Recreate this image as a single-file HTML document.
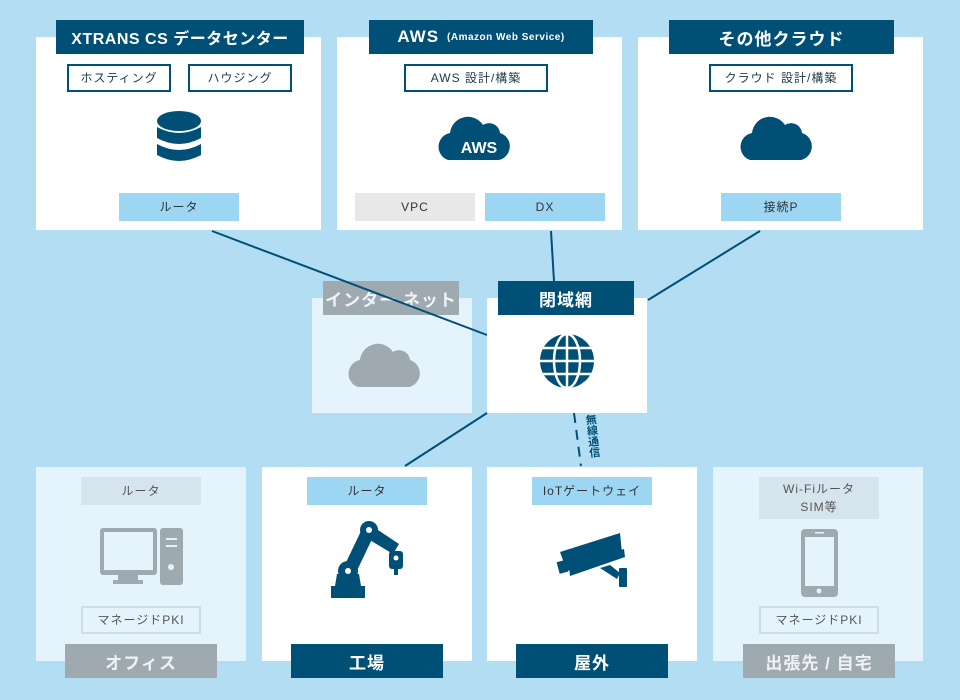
<!DOCTYPE html>
<html><head><meta charset="utf-8"><style>
*{margin:0;padding:0;box-sizing:border-box}
body{width:960px;height:700px;background:#b2ddf3;position:relative;overflow:hidden;font-family:"Liberation Sans","Noto Sans CJK JP",sans-serif}
.a{position:absolute}
.box{position:absolute;background:#fff}
.pale{background:#e5f3fc}
.tab{position:absolute;background:#004f77;color:#fff;font-weight:bold;font-size:17px;display:flex;align-items:center;justify-content:center;letter-spacing:1px}
.gray{background:#9ea9b0;color:#eef2f4}
.chip{position:absolute;display:flex;align-items:center;justify-content:center;font-size:12px;color:#333;letter-spacing:1px;text-align:center;line-height:18px}
.bord{border:2px solid #004f77;background:#fff;color:#1a3a4a}
.lb{background:#9dd6f3}
.lg{background:#e8e8e8}
.pg{background:#d6e4ee;color:#555}
.pb{border:2px solid #d0dde6;color:#555}
svg{position:absolute;left:0;top:0}
</style></head><body>
<svg width="960" height="700">
<g stroke="#004f77" stroke-width="2" fill="none">
<line x1="551" y1="231" x2="555" y2="298"/>
<line x1="760" y1="231" x2="648" y2="300"/>
<line x1="405" y1="466" x2="487" y2="413"/>
<line x1="574" y1="413" x2="581" y2="466" stroke-dasharray="10,7"/>
</g>
</svg>
<!-- top boxes -->
<div class="box" style="left:36px;top:37px;width:285px;height:193px"></div>
<div class="box" style="left:337px;top:37px;width:285px;height:193px"></div>
<div class="box" style="left:638px;top:37px;width:285px;height:193px"></div>
<div class="tab" style="left:56px;top:20px;width:248px;height:34px;font-size:16px;letter-spacing:0.5px">XTRANS CS データセンター</div>
<div class="tab" style="left:369px;top:20px;width:224px;height:34px">AWS <span style="font-size:10px;font-weight:bold;margin-left:8px;letter-spacing:0.5px">(Amazon Web Service)</span></div>
<div class="tab" style="left:669px;top:20px;width:225px;height:34px">その他クラウド</div>
<div class="chip bord" style="left:67px;top:64px;width:104px;height:28px">ホスティング</div>
<div class="chip bord" style="left:188px;top:64px;width:104px;height:28px">ハウジング</div>
<div class="chip bord" style="left:404px;top:64px;width:144px;height:28px">AWS 設計/構築</div>
<div class="chip bord" style="left:709px;top:64px;width:144px;height:28px">クラウド 設計/構築</div>
<div class="chip lb" style="left:119px;top:193px;width:120px;height:28px">ルータ</div>
<div class="chip lg" style="left:355px;top:193px;width:120px;height:28px">VPC</div>
<div class="chip lb" style="left:485px;top:193px;width:120px;height:28px">DX</div>
<div class="chip lb" style="left:721px;top:193px;width:120px;height:28px">接続P</div>
<!-- middle -->
<div class="box pale" style="left:312px;top:298px;width:160px;height:115px"></div>
<div class="tab gray" style="left:323px;top:281px;width:136px;height:34px">インター ネット</div>
<svg width="960" height="700"><path fill="#9ea9b0" d="M358 387 a14 14 0 0 1 2 -27 a18 18 0 0 1 33 -8 a11 11 0 0 1 17 8 a14 14 0 0 1 -1 27z"/>
<line x1="212" y1="231" x2="487" y2="335" stroke="#004f77" stroke-width="2"/></svg>
<div class="box" style="left:487px;top:298px;width:160px;height:115px"></div>
<div class="tab" style="left:498px;top:281px;width:136px;height:34px">閉域網</div>
<div class="a" style="left:584px;top:414px;writing-mode:vertical-rl;font-size:11px;color:#004f77;transform:rotate(-6deg);font-weight:bold">無線通信</div>
<!-- bottom -->
<div class="box pale" style="left:36px;top:467px;width:210px;height:194px"></div>
<div class="box" style="left:262px;top:467px;width:210px;height:194px"></div>
<div class="box" style="left:487px;top:467px;width:210px;height:194px"></div>
<div class="box pale" style="left:713px;top:467px;width:210px;height:194px"></div>
<div class="chip pg" style="left:81px;top:477px;width:120px;height:28px">ルータ</div>
<div class="chip pb" style="left:81px;top:606px;width:120px;height:28px">マネージドPKI</div>
<div class="chip lb" style="left:307px;top:477px;width:120px;height:28px">ルータ</div>
<div class="chip lb" style="left:532px;top:477px;width:120px;height:28px">IoTゲートウェイ</div>
<div class="chip pg" style="left:759px;top:477px;width:120px;height:42px">Wi-Fiルータ<br>SIM等</div>
<div class="chip pb" style="left:759px;top:606px;width:120px;height:28px">マネージドPKI</div>
<div class="tab gray" style="left:65px;top:644px;width:152px;height:34px">オフィス</div>
<div class="tab" style="left:291px;top:644px;width:152px;height:34px">工場</div>
<div class="tab" style="left:516px;top:644px;width:152px;height:34px">屋外</div>
<div class="tab gray" style="left:743px;top:644px;width:152px;height:34px">出張先 / 自宅</div>
<!-- icons -->
<svg width="960" height="700">
<g fill="#004f77">
<ellipse cx="179" cy="121" rx="22" ry="10"/>
<path d="M157 127 q22 12 44 0 v11 q-22 12 -44 0z"/>
<path d="M157 144 q22 12 44 0 v11 q-22 12 -44 0z"/>
<path d="M448 160 a14 14 0 0 1 2 -27 a18 18 0 0 1 33 -8 a11 11 0 0 1 17 8 a14 14 0 0 1 -1 27z"/>
<path d="M750 160 a14 14 0 0 1 2 -27 a18 18 0 0 1 33 -8 a11 11 0 0 1 17 8 a14 14 0 0 1 -1 27z"/>
<circle cx="567" cy="361" r="27"/>
</g>
<text x="479" y="153" font-family="Liberation Sans" font-weight="bold" font-size="16" fill="#fff" text-anchor="middle">AWS</text>
<g stroke="#fff" stroke-width="2.5" fill="none">
<line x1="540" y1="361" x2="594" y2="361"/><line x1="543" y1="348" x2="591" y2="348"/><line x1="543" y1="374" x2="591" y2="374"/>
<line x1="567" y1="334" x2="567" y2="388"/>
<ellipse cx="567" cy="361" rx="13" ry="27"/>
</g>
<g fill="#9ea9b0">
<rect x="100" y="528" width="57" height="47" rx="3"/>
<rect x="118" y="575" width="20" height="6"/><rect x="113" y="580" width="30" height="4"/>
<rect x="160" y="528" width="23" height="57" rx="3"/>
</g>
<rect x="104" y="532" width="49" height="38" fill="#e5f3fc"/>
<g fill="#e5f3fc"><rect x="166" y="538" width="11" height="2"/><rect x="166" y="545" width="11" height="2"/><circle cx="171" cy="567" r="3"/></g>
<rect x="801" y="529" width="37" height="68" rx="4" fill="#9ea9b0"/>
<rect x="805" y="537" width="29" height="49" fill="#e5f3fc"/>
<circle cx="819" cy="591" r="2.5" fill="#e5f3fc"/>
<rect x="815" y="532" width="9" height="1.5" fill="#e5f3fc"/>
<g fill="#004f77">
<rect x="331" y="586" width="34" height="12"/>
<path d="M335 586 l2 -12 h22 l2 12z"/>
<path d="M340 575 l22 -46 l12 6 l-22 46z"/>
<circle cx="348" cy="571" r="10"/>
<circle cx="369" cy="530" r="9"/>
<path d="M363 536 l30 18 l6 -10 l-30 -20z"/>
<rect x="389" y="551" width="14" height="18" rx="3"/>
<rect x="394" y="569" width="4" height="6"/>
</g>
<g fill="#fff"><circle cx="348" cy="571" r="3"/><circle cx="369" cy="530" r="3"/><circle cx="396" cy="558" r="2.5"/></g>
<g fill="#004f77">
<path d="M560 552 l60 -19 l2 20 l-55 18z"/>
<path d="M569 567 l55 -18 l1 8 l-55 19z"/>
<rect x="558" y="561" width="9" height="12" transform="rotate(-15 562 567)"/>
<path d="M600 568 l10 -3 l10 8 l-3 6z"/>
<rect x="619" y="568" width="8" height="19" rx="1"/>
</g>
</svg>
</body></html>
